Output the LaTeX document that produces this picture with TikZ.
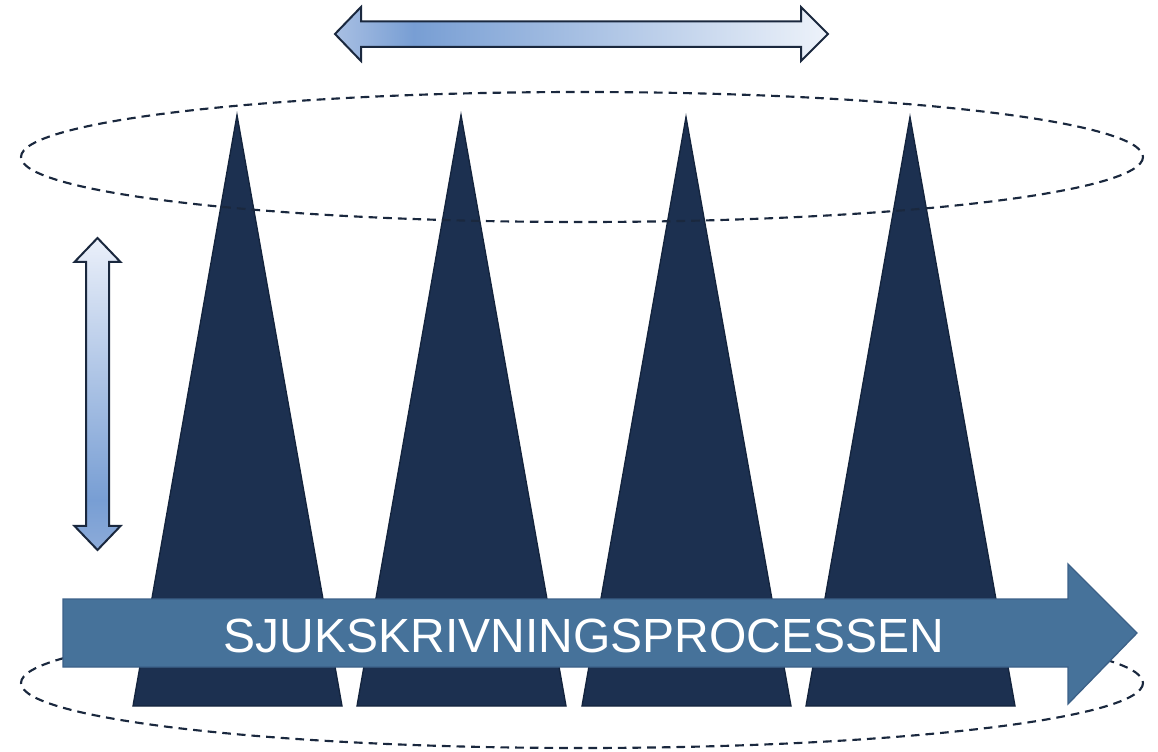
\documentclass[tikz,border=0pt]{standalone}
\usepackage{fontspec}
\setmainfont{Liberation Sans}
\usepackage{tikz}
\usetikzlibrary{positioning}

\definecolor{peak}{RGB}{28,48,80}
\definecolor{peakline}{RGB}{20,36,61}
\definecolor{flow}{RGB}{70,114,154}
\definecolor{flowline}{RGB}{60,97,136}
\definecolor{rim}{RGB}{26,40,62}

\pgfdeclarehorizontalshading{spanfade}{100bp}{rgb(0bp)=(0.66,0.75,0.89); rgb(25bp)=(0.66,0.75,0.89); rgb(33bp)=(0.47,0.62,0.83); rgb(75bp)=(0.93,0.95,0.98); rgb(100bp)=(0.93,0.95,0.98)}
\pgfdeclareverticalshading{depthfade}{100bp}{rgb(0bp)=(0.55,0.67,0.85); rgb(25bp)=(0.55,0.67,0.85); rgb(33bp)=(0.47,0.62,0.83); rgb(75bp)=(0.92,0.94,0.98); rgb(100bp)=(0.92,0.94,0.98)}

\tikzset{
  peakshape/.style={fill=peak, draw=peakline, line width=1pt, line join=miter},
  ring/.style={draw=rim, line width=1.6pt, dash pattern=on 6.5pt off 4.5pt},
  rangearrow/.style={draw=rim, line width=1.5pt, line join=miter}
}

\begin{document}
\begin{tikzpicture}[x=0.75pt, y=-0.75pt, every node/.style={font=\fontsize{36}{42}\selectfont}]

\useasboundingbox (0,0) rectangle (1158,752);

  % Bottom ring

\draw[ring] (582,683) ellipse [x radius=561, y radius=65];

  % Peaks

\draw[peakshape] (237,115) -- (342,706) -- (133,706) -- cycle; % Peak 1
\draw[peakshape] (461,115) -- (566,706) -- (357,706) -- cycle; % Peak 2
\draw[peakshape] (686,117) -- (791,706) -- (582,706) -- cycle; % Peak 3
\draw[peakshape] (910,117) -- (1015,706) -- (806,706) -- cycle; % Peak 4

  % Top ring

\draw[ring] (582,157) ellipse [x radius=561, y radius=65];

  % Process arrow

\draw[fill=flow, draw=flowline, line width=1pt]
  (63,599) -- (1068,599) -- (1068,564) -- (1137,633) -- (1068,704) -- (1068,667) -- (63,667) -- cycle;

\node[text=white, anchor=base] (process) at (584,652) {SJUKSKRIVNINGSPROCESSEN};

  % Width arrow

\draw[rangearrow, shading=spanfade]
  (335,34) -- (361,7) -- (361,21.5) -- (801,21.5) -- (801,7) -- (828,34)
  -- (801,61) -- (801,47) -- (361,47) -- (361,61) -- cycle;

  % Height arrow

\draw[rangearrow, shading=depthfade]
  (97.5,238) -- (120.5,262) -- (109,262) -- (109,526) -- (120.5,526) -- (97.5,550)
  -- (74.5,526) -- (86,526) -- (86,262) -- (74.5,262) -- cycle;

\end{tikzpicture}
\end{document}
